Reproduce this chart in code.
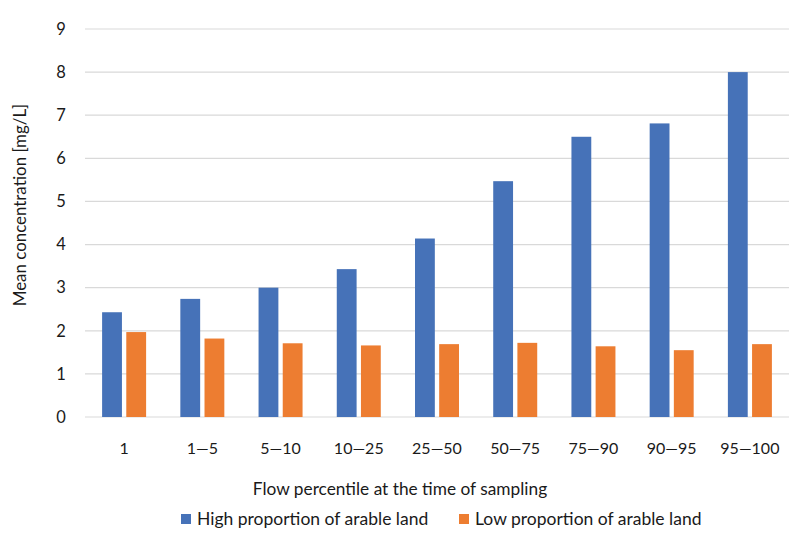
<!DOCTYPE html>
<html>
<head>
<meta charset="utf-8">
<script src="https://cdn.jsdelivr.net/npm/d3@7"></script>
<style>
  body { margin: 0; background: #fff; }
  text { font-family: Lato, "Noto Sans", sans-serif; fill: #1a1a1a; }
</style>
</head>
<body>
<div id="chart"></div>
<script>
let categories = ['1', '1—5', '5—10', '10—25', '25—50', '50—75', '75—90', '90—95', '95—100']
let highArable = [2.43, 2.74, 3.0, 3.43, 4.14, 5.47, 6.5, 6.81, 8.0]
let lowArable = [1.97, 1.82, 1.71, 1.66, 1.69, 1.72, 1.64, 1.55, 1.69]
let seriesNames = ['High proportion of arable land', 'Low proportion of arable land']
let seriesColors = ['#4672b8', '#ed7d31']
let yTicks = [0, 1, 2, 3, 4, 5, 6, 7, 8, 9]

let width = 800
let height = 539
let margin = { top: 29, right: 11, bottom: 122, left: 85 }

let svg = d3
	.select('#chart')
	.append('svg')
	.attr('width', width)
	.attr('height', height)

let x = d3
	.scaleBand()
	.domain(categories)
	.range([margin.left, width - margin.right])

let x1 = d3
	.scaleBand()
	.domain([0, 1])
	.range([-22, 22])
	.paddingInner(0.18)

let y = d3
	.scaleLinear()
	.domain([0, 9])
	.range([height - margin.bottom, margin.top])

// gridlines
svg
	.append('g')
	.selectAll('line')
	.data(yTicks)
	.join('line')
	.attr('x1', margin.left)
	.attr('x2', width - margin.right)
	.attr('y1', d => y(d))
	.attr('y2', d => y(d))
	.attr('stroke', '#d9d9d9')
	.attr('stroke-width', 1.2)

// y tick labels
svg
	.append('g')
	.selectAll('text')
	.data(yTicks)
	.join('text')
	.attr('x', 61)
	.attr('y', d => y(d))
	.attr('dy', '0.35em')
	.attr('text-anchor', 'middle')
	.attr('font-size', 16.5)
	.text(d => d)

// bars
let series = [highArable, lowArable]
series.forEach((values, s) => {
	svg
		.append('g')
		.selectAll('rect')
		.data(values)
		.join('rect')
		.attr('x', (d, i) => x(categories[i]) + x.bandwidth() / 2 + x1(s))
		.attr('y', d => y(d))
		.attr('width', x1.bandwidth())
		.attr('height', d => y(0) - y(d))
		.attr('fill', seriesColors[s])
})

// x tick labels
svg
	.append('g')
	.selectAll('text')
	.data(categories)
	.join('text')
	.attr('x', d => x(d) + x.bandwidth() / 2)
	.attr('y', 448)
	.attr('dy', '0.35em')
	.attr('text-anchor', 'middle')
	.attr('font-size', 16)
	.text(d => d)

// axis titles
svg
	.append('text')
	.attr('x', 400)
	.attr('y', 489)
	.attr('dy', '0.35em')
	.attr('text-anchor', 'middle')
	.attr('font-size', 17.3)
	.text('Flow percentile at the time of sampling')

svg
	.append('text')
	.attr('transform', 'translate(20,205) rotate(-90)')
	.attr('dy', '0.35em')
	.attr('text-anchor', 'middle')
	.attr('font-size', 16.9)
	.text('Mean concentration [mg/L]')

// legend
let legendX = [181, 459]
let legend = svg
	.append('g')
	.selectAll('g')
	.data(seriesNames)
	.join('g')
	.attr('transform', (d, i) => `translate(${legendX[i]},519)`)

legend
	.append('rect')
	.attr('x', 0)
	.attr('y', -5)
	.attr('width', 10)
	.attr('height', 10)
	.attr('fill', (d, i) => seriesColors[i])

legend
	.append('text')
	.attr('x', 16)
	.attr('dy', '0.35em')
	.attr('font-size', 17.5)
	.text(d => d)
</script>
</body>
</html>
